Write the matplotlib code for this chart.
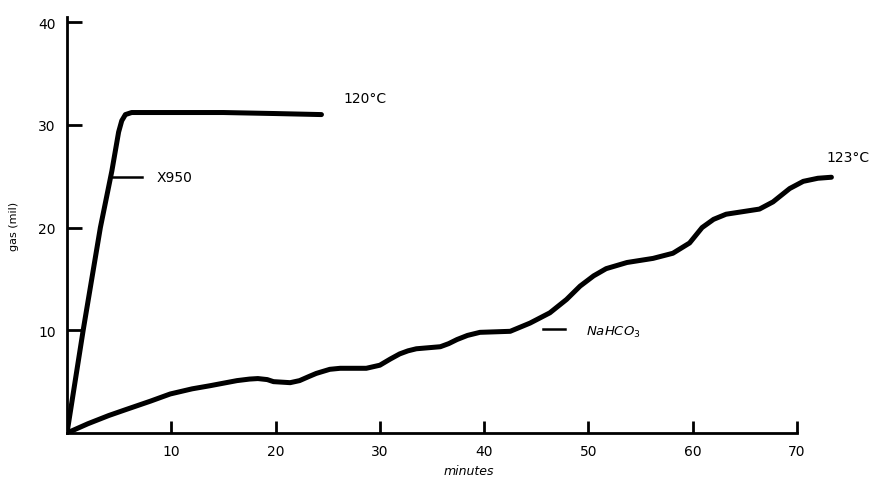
import matplotlib.pyplot as plt

# X950 at 120 C
x950_min = [0, 1.55, 3.2, 4.3, 4.95, 5.25, 5.6, 6.2, 10, 15, 20, 24.4]
x950_gas = [0, 10, 20, 25.5, 29.3, 30.4, 31.0, 31.2, 31.2, 31.2, 31.1, 31.0]

# NaHCO3 at 123 C
nahco3_min = [0, 2, 4, 5.7, 8, 9.9, 12, 13.7, 16.3, 17.5, 18.3, 19.2, 19.8, 21.4, 22.3,
              23.2, 23.9, 25.2, 26.2, 28.7, 30, 31, 31.9, 32.7, 33.5, 35.8, 36.6,
              37.4, 38.4, 39.6, 42.5, 44.4, 46.3, 47.9, 49.2, 50.5, 51.7, 53.7,
              56.2, 58.1, 59.7, 60.9, 62.0, 63.2, 66.4, 67.7, 69.3, 70.6, 72, 73.3]
nahco3_gas = [0, 0.9, 1.7, 2.3, 3.1, 3.8, 4.3, 4.6, 5.1, 5.25, 5.3, 5.2, 5.0, 4.9, 5.1,
              5.5, 5.8, 6.2, 6.3, 6.3, 6.6, 7.2, 7.7, 8.0, 8.2, 8.4, 8.7,
              9.1, 9.5, 9.8, 9.9, 10.7, 11.7, 13.0, 14.3, 15.3, 16.0, 16.6,
              17.0, 17.5, 18.5, 20.0, 20.8, 21.3, 21.8, 22.5, 23.8, 24.5, 24.8, 24.9]

xticks = [10, 20, 30, 40, 50, 60, 70]
yticks = [10, 20, 30, 40]

fig = plt.figure(figsize=(8.73, 4.85), dpi=100)
ax = fig.add_axes([67 / 873, 1 - 434 / 485, (870 - 67) / 873, (434 - 18) / 485])

ax.plot(x950_min, x950_gas, color="black", lw=3.6, solid_capstyle="round", solid_joinstyle="round")
ax.plot(nahco3_min, nahco3_gas, color="black", lw=3.6, solid_capstyle="round", solid_joinstyle="round")

ax.set_xlim(0, 77)
ax.set_ylim(0, 40.5)
ax.spines["top"].set_visible(False)
ax.spines["right"].set_visible(False)
ax.spines["left"].set_linewidth(2)
ax.spines["bottom"].set_linewidth(2)
ax.spines["bottom"].set_bounds(0, 70)
ax.spines["left"].set_bounds(0, 40.5)

ax.set_xticks(xticks)
ax.set_yticks(yticks)
ax.tick_params(direction="in", length=9, width=2, labelsize=10, pad=8)
ax.tick_params(axis="y", length=11)

ax.set_xlabel("minutes", style="italic", fontsize=9, labelpad=4)
ax.set_ylabel("gas (mil)", fontsize=8, labelpad=14)

# curve labels with short leader lines
ax.plot([4.4, 7.2], [24.9, 24.9], color="black", lw=1.8)
ax.text(8.6, 24.9, "X950", fontsize=10, va="center")
ax.text(26.5, 32.6, "120°C", fontsize=10, va="center")
ax.plot([45.6, 47.8], [10.1, 10.1], color="black", lw=1.8)
ax.text(49.8, 9.9, "NaHCO$_3$", fontsize=9.5, style="italic", va="center")
ax.text(72.8, 26.9, "123°C", fontsize=10, va="center")

fig.savefig("out.png", dpi=100)
